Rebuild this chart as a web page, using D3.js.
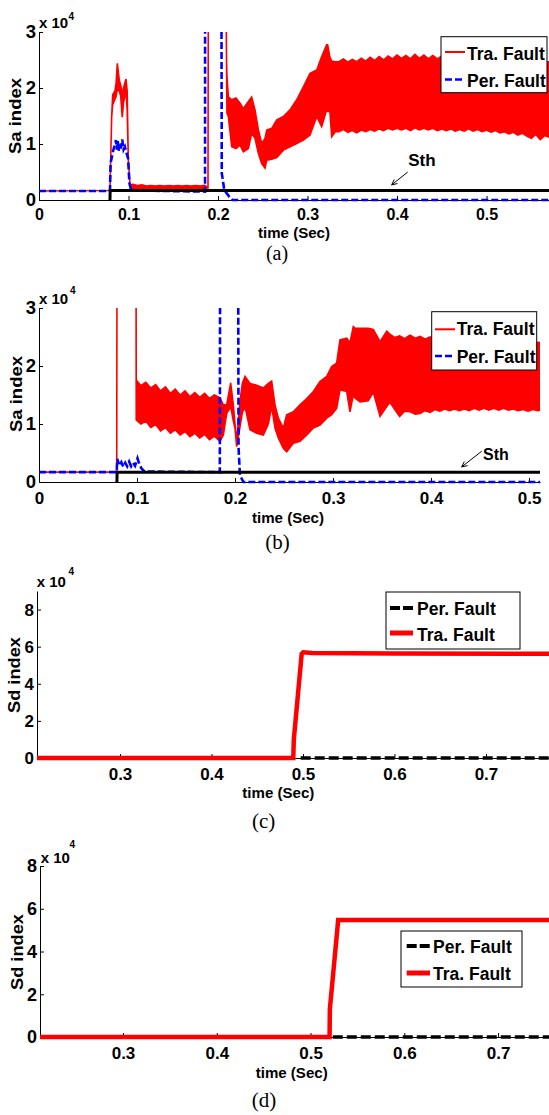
<!DOCTYPE html>
<html>
<head>
<meta charset="utf-8">
<script src="https://cdn.jsdelivr.net/npm/d3@7"></script>
<style>
  html, body { margin: 0; padding: 0; background: #fff; }
  svg { display: block; }
  text { font-family: "Liberation Sans", Arial, Helvetica, sans-serif; font-weight: bold; fill: #000; }
  text.cap { font-family: "Liberation Serif", "Times New Roman", serif; font-weight: normal; }
</style>
</head>
<body>
<svg id="fig" width="549" height="1115"></svg>
<script>
// ---------------- Panel (a): Sa index, values in units of 10^4 ----------------
const aTraTime = [0, 0.0793, 0.0812, 0.0823, 0.0849, 0.0862, 0.0875, 0.0885, 0.0897, 0.0913, 0.0930, 0.0945, 0.0960, 0.0972, 0.0985, 0.0998, 0.1017,
  0.105, 0.110, 0.115, 0.120, 0.125, 0.130, 0.135, 0.140, 0.145, 0.150, 0.155, 0.160, 0.165, 0.170, 0.175, 0.180, 0.185, 0.1888,
  0.1892, 0.2088, 0.2095, 0.2100, 0.2116, 0.2153, 0.2201, 0.2246, 0.2283, 0.2339, 0.2376, 0.2413, 0.2451, 0.2488, 0.2525, 0.2544,
  0.2600, 0.2656, 0.2730, 0.2804, 0.2879, 0.2953, 0.3028, 0.3103, 0.3158, 0.3214, 0.3225, 0.3250, 0.3270, 0.3310,
  0.335, 0.340, 0.345, 0.350, 0.355, 0.360, 0.365, 0.370, 0.375, 0.380, 0.385, 0.390, 0.395, 0.400, 0.405, 0.410, 0.415, 0.420,
  0.425, 0.430, 0.435, 0.440, 0.445, 0.450, 0.455, 0.460, 0.465, 0.470, 0.475, 0.480, 0.485, 0.490, 0.495, 0.500, 0.505, 0.510,
  0.515, 0.520, 0.525, 0.530, 0.535, 0.540, 0.545, 0.550, 0.555, 0.560, 0.565, 0.570];
const aTraLow = [0.16, 0.17, 1.49, 1.70, 1.80, 1.85, 2.00, 1.95, 1.95, 1.85, 1.48, 1.75, 1.85, 1.95, 1.60, 0.71, 0.27,
  0.20, 0.20, 0.21, 0.20, 0.21, 0.20, 0.20, 0.21, 0.20, 0.20, 0.21, 0.20, 0.20, 0.20, 0.21, 0.20, 0.20, 0.22,
  4, 4, 2.50, 1.55, 1.49, 0.95, 0.92, 0.98, 0.86, 0.92, 1.19, 1.10, 0.83, 0.65, 0.57, 0.71,
  0.73, 0.76, 0.89, 0.95, 1.01, 1.07, 1.16, 1.49, 1.31, 1.61, 1.58, 1.58, 1.13, 1.22,
  1.22, 1.26, 1.21, 1.24, 1.20, 1.25, 1.22, 1.26, 1.23, 1.27, 1.24, 1.28, 1.25, 1.28, 1.25, 1.28, 1.24, 1.29,
  1.25, 1.28, 1.25, 1.28, 1.24, 1.27, 1.24, 1.27, 1.23, 1.26, 1.23, 1.27, 1.23, 1.26, 1.22, 1.25, 1.21, 1.24,
  1.20, 1.22, 1.18, 1.21, 1.16, 1.19, 1.14, 1.10, 1.17, 1.08, 1.15, 1.12];
const aTraHigh = [0.16, 0.17, 1.49, 1.88, 1.95, 2.10, 2.44, 2.30, 2.14, 2.05, 1.90, 2.00, 2.10, 2.16, 1.95, 0.71, 0.27,
  0.28, 0.26, 0.27, 0.25, 0.26, 0.25, 0.26, 0.25, 0.26, 0.25, 0.26, 0.25, 0.26, 0.25, 0.26, 0.25, 0.26, 0.22,
  4, 4, 2.50, 2.20, 1.84, 1.79, 1.82, 1.73, 1.63, 1.76, 1.84, 1.61, 1.25, 1.01, 1.10, 1.25,
  1.28, 1.43, 1.49, 1.61, 1.79, 2.02, 2.26, 2.32, 2.56, 2.77, 2.77, 2.55, 2.48, 2.47,
  2.47, 2.52, 2.46, 2.51, 2.47, 2.53, 2.48, 2.55, 2.49, 2.56, 2.50, 2.57, 2.52, 2.59, 2.53, 2.58, 2.52, 2.60,
  2.53, 2.59, 2.52, 2.58, 2.52, 2.57, 2.51, 2.56, 2.50, 2.55, 2.50, 2.55, 2.49, 2.54, 2.49, 2.53, 2.48, 2.52,
  2.47, 2.51, 2.46, 2.50, 2.46, 2.50, 2.46, 2.48, 2.46, 2.48, 2.47, 2.47];

const aPerTime = [0, 0.0793, 0.0800, 0.0830, 0.0850, 0.0860, 0.0870, 0.0880, 0.0890, 0.0900, 0.0915, 0.0930, 0.0945, 0.0960, 0.0975, 0.0995,
  0.1010, 0.1030, 0.1855, 0.1856, 0.2038, 0.2042, 0.2070, 0.2125, 0.2160, 0.570];
const aPerValue = [0.16, 0.16, 0.66, 0.89, 1.00, 1.07, 0.90, 1.05, 0.88, 1.00, 0.92, 1.08, 0.90, 0.95, 0.85, 0.75,
  0.30, 0.17, 0.15, 4, 4, 0.48, 0.18, 0.06, 0, 0];

const aSthTime = [0.0793, 0.0795, 0.570];
const aSthValue = [0, 0.17, 0.17];

// ---------------- Panel (b): Sa index, values in units of 10^4 ----------------
const bTraTime = [0, 0.0793, 0.0796, 0.0990, 0.0992, 0.1040, 0.1090, 0.1140, 0.1190, 0.1240, 0.1290, 0.1340, 0.1390, 0.1440,
  0.1490, 0.1540, 0.1590, 0.1640, 0.1690, 0.1740, 0.1790, 0.1847,
  0.1881, 0.1915, 0.1956, 0.1983, 0.2000, 0.2017, 0.2051, 0.2075, 0.2102, 0.2153, 0.2221, 0.2289, 0.2340, 0.2374, 0.2408, 0.2442,
  0.2493, 0.2527, 0.2595, 0.2663, 0.2732, 0.2799, 0.2867, 0.2936, 0.2986, 0.3037, 0.3071, 0.3140, 0.3173, 0.3207, 0.3224, 0.3276,
  0.3360, 0.3411, 0.3480, 0.3548, 0.3580, 0.363, 0.368, 0.373, 0.3786, 0.384, 0.3888, 0.394, 0.399, 0.404, 0.409, 0.414, 0.419,
  0.424, 0.429, 0.434, 0.439, 0.444, 0.449, 0.454, 0.459, 0.464, 0.469, 0.474, 0.479, 0.484, 0.489, 0.494, 0.499, 0.504, 0.509, 0.512];
const bTraLow = [0.17, 0.17, 4, 4, 1.07, 1.00, 1.05, 0.94, 0.99, 0.88, 0.94, 0.84, 0.90, 0.81,
  0.87, 0.78, 0.84, 0.76, 0.82, 0.73, 0.79, 0.70,
  0.81, 1.18, 1.30, 1.05, 0.93, 0.61, 0.95, 1.20, 1.30, 0.90, 0.84, 0.81, 1.00, 1.30, 0.93, 0.76,
  0.58, 0.52, 0.67, 0.70, 0.81, 0.93, 0.98, 1.10, 1.16, 1.27, 1.59, 1.56, 1.21, 1.50, 1.45, 1.38,
  1.40, 1.55, 1.13, 1.30, 1.38, 1.25, 1.13, 1.22, 1.21, 1.17, 1.18, 1.23, 1.20, 1.25, 1.22, 1.26, 1.23,
  1.26, 1.23, 1.26, 1.23, 1.27, 1.24, 1.27, 1.24, 1.27, 1.24, 1.27, 1.24, 1.26, 1.23, 1.25, 1.22, 1.25, 1.23, 1.24];
const bTraHigh = [0.17, 0.17, 4, 4, 1.76, 1.66, 1.72, 1.62, 1.68, 1.57, 1.64, 1.53, 1.60, 1.50,
  1.57, 1.47, 1.54, 1.46, 1.53, 1.44, 1.50, 1.45,
  1.33, 1.33, 1.71, 1.33, 1.00, 0.70, 1.40, 1.70, 1.82, 1.70, 1.67, 1.62, 1.70, 1.74, 1.33, 1.10,
  0.93, 1.16, 1.21, 1.33, 1.44, 1.56, 1.73, 1.82, 1.99, 2.05, 2.45, 2.48, 2.40, 2.68, 2.65, 2.65,
  2.65, 2.63, 2.42, 2.60, 2.55, 2.49, 2.52, 2.47, 2.53, 2.48, 2.51, 2.46, 2.50, 2.46, 2.49, 2.45, 2.48,
  2.44, 2.47, 2.44, 2.46, 2.43, 2.46, 2.42, 2.45, 2.42, 2.45, 2.41, 2.44, 2.41, 2.43, 2.40, 2.43, 2.39, 2.41, 2.40];

const bPerTime = [0, 0.0793, 0.0798, 0.0820, 0.0840, 0.0860, 0.0880, 0.0900, 0.0920, 0.0940, 0.0960, 0.0980, 0.1005, 0.1025,
  0.1048, 0.1078, 0.1845, 0.1848, 0.2032, 0.2036, 0.2050, 0.2085, 0.512];
const bPerValue = [0.17, 0.17, 0.40, 0.28, 0.34, 0.26, 0.33, 0.27, 0.35, 0.27, 0.33, 0.28, 0.41, 0.30,
  0.23, 0.18, 0.17, 4, 4, 0.60, 0.12, 0, 0];

const bSthTime = [0.0795, 0.0797, 0.512];
const bSthValue = [0, 0.17, 0.17];

// ---------------- Panel (c): Sd index, values in units of 10^4 ----------------
const cTraTime = [0.2093, 0.4894, 0.4900, 0.4986, 0.5003, 0.5100, 0.6000, 0.7700];
const cTraValue = [0, 0, 1.0, 5.62, 5.70, 5.66, 5.63, 5.62];
const cPerTime = [0.4975, 0.7700];
const cPerValue = [0, 0];

// ---------------- Panel (d): Sd index, values in units of 10^4 ----------------
const dTraTime = [0.2115, 0.5203, 0.5206, 0.5295, 0.7550];
const dTraValue = [0, 0, 1.3, 5.47, 5.47];
const dPerTime = [0.5237, 0.7550];
const dPerValue = [0, 0];

// ---------------- Ticks and labels ----------------
const abTicksX = [0, 0.1, 0.2, 0.3, 0.4, 0.5];
const abTicksY = [0, 1, 2, 3];
const cdTicksX = [0.3, 0.4, 0.5, 0.6, 0.7];
const cdTicksY = [0, 2, 4, 6, 8];
const legendAB = ["Tra. Fault", "Per. Fault"];
const legendCD = ["Per. Fault", "Tra. Fault"];
const xTitle = "time (Sec)";
const saTitle = "Sa index";
const sdTitle = "Sd index";
const captions = ["(a)", "(b)", "(c)", "(d)"];
const thresholdLabel = "Sth";
// where the "Sth" note points (time, value in 10^4)
const aSthNote = { tip: [0.394, 0.27], tail: [0.412, 0.50], text: [0.4125, 0.61] };
const bSthNote = { tip: [0.4313, 0.26], tail: [0.4517, 0.53], text: [0.453, 0.38] };

const RED = "#ff0000", BLUE = "#0000ff", BLACK = "#000000";
const svg = d3.select("#fig");

function styleAxis(sel, fontSize) {
  sel.attr("font-family", null).attr("font-size", null);
  sel.select(".domain").attr("stroke", BLACK).attr("stroke-width", 1);
  sel.selectAll(".tick line").attr("stroke", BLACK).attr("stroke-width", 1);
  sel.selectAll(".tick text").style("font-size", fontSize + "px");
}

function drawPanel(p) {
  const g = svg.append("g");
  const x = d3.scaleLinear().domain(p.xDomain).range([p.left, p.right]);
  const y = d3.scaleLinear().domain(p.yDomain).range([p.bottom, p.top]);

  const clipId = "clip-" + p.id;
  svg.append("clipPath").attr("id", clipId).append("rect")
    .attr("x", p.left).attr("y", p.top)
    .attr("width", p.right - p.left).attr("height", p.bottom - p.top + 6);

  g.append("g").attr("transform", `translate(0,${p.bottom})`)
    .call(d3.axisBottom(x).tickValues(p.xTicks).tickFormat(d => String(d))
      .tickSizeInner(-4).tickSizeOuter(0).tickPadding(p.xPad))
    .call(styleAxis, p.xFont);
  g.append("g").attr("transform", `translate(${p.left},0)`)
    .call(d3.axisLeft(y).tickValues(p.yTicks).tickFormat(d => String(d))
      .tickSizeInner(-4).tickSizeOuter(0).tickPadding(p.yPad))
    .call(styleAxis, p.yFont);

  const marks = g.append("g").attr("clip-path", `url(#${clipId})`);
  p.series.forEach(s => {
    const idx = d3.range(s.time.length);
    if (s.low) {
      const area = d3.area()
        .x(i => x(s.time[i])).y0(i => y(s.low[i])).y1(i => y(s.high[i]));
      marks.append("path").attr("d", area(idx))
        .attr("fill", s.color).attr("stroke", s.color)
        .attr("stroke-width", s.width).attr("stroke-linejoin", "miter");
    } else {
      const line = d3.line().x(i => x(s.time[i])).y(i => y(s.value[i]));
      marks.append("path").attr("d", line(idx))
        .attr("fill", "none").attr("stroke", s.color)
        .attr("stroke-width", s.width)
        .attr("stroke-dasharray", s.dash || null);
    }
  });

  // multiplier above the y axis
  g.append("text").attr("x", p.mult[0]).attr("y", p.mult[1]).style("font-size", "15px").text("x 10");
  g.append("text").attr("x", p.mult[2]).attr("y", p.mult[3]).style("font-size", "10px").text("4");

  // axis titles
  g.append("text").attr("x", p.xTitle[0]).attr("y", p.xTitle[1]).attr("text-anchor", "middle")
    .style("font-size", "15px").attr("textLength", 72).attr("lengthAdjust", "spacingAndGlyphs")
    .text(xTitle);
  g.append("text").attr("transform", `translate(${p.yTitle[0]},${p.yTitle[1]}) rotate(-90)`)
    .attr("text-anchor", "middle").style("font-size", "16px")
    .attr("textLength", 76).attr("lengthAdjust", "spacingAndGlyphs")
    .text(p.yTitleText);

  // caption under the panel
  g.append("text").attr("class", "cap").attr("x", p.cap[0]).attr("y", p.cap[1])
    .attr("text-anchor", "middle").style("font-size", p.capFont + "px").text(p.capText);

  // threshold note
  if (p.note) {
    const n = p.note;
    const tip = [x(n.tip[0]), y(n.tip[1])], tail = [x(n.tail[0]), y(n.tail[1])];
    g.append("line").attr("x1", tail[0]).attr("y1", tail[1]).attr("x2", tip[0]).attr("y2", tip[1])
      .attr("stroke", BLACK).attr("stroke-width", 1);
    const ang = Math.atan2(tail[1] - tip[1], tail[0] - tip[0]);
    [0.45, -0.45].forEach(da => {
      g.append("line").attr("x1", tip[0]).attr("y1", tip[1])
        .attr("x2", tip[0] + 6 * Math.cos(ang + da)).attr("y2", tip[1] + 6 * Math.sin(ang + da))
        .attr("stroke", BLACK).attr("stroke-width", 1);
    });
    g.append("text").attr("x", x(n.text[0])).attr("y", y(n.text[1]))
      .style("font-size", p.noteFont + "px").text(thresholdLabel);
  }

  // legend box
  const L = p.legend;
  g.append("rect").attr("x", L.x).attr("y", L.y).attr("width", L.w).attr("height", L.h)
    .attr("fill", "#fff").attr("stroke", BLACK).attr("stroke-width", 1);
  L.items.forEach(it => {
    g.append("line").attr("x1", L.sx0).attr("x2", L.sx1).attr("y1", it.ly).attr("y2", it.ly)
      .attr("stroke", it.color).attr("stroke-width", it.width)
      .attr("stroke-dasharray", it.dash || null);
    g.append("text").attr("x", L.tx).attr("y", it.base).style("font-size", "17.5px").text(it.label);
  });
}

// (a)
drawPanel({
  id: "a", left: 39, right: 549.2, top: 32, bottom: 200,
  xDomain: [0, 0.57], yDomain: [0, 3], xTicks: abTicksX, yTicks: abTicksY,
  xPad: 9, yPad: 3, xFont: 16, yFont: 18.5,
  series: [
    { time: aTraTime, low: aTraLow, high: aTraHigh, color: RED, width: 1.6 },
    { time: aPerTime, value: aPerValue, color: BLUE, width: 2.6, dash: "7,3" },
    { time: aSthTime, value: aSthValue, color: BLACK, width: 3 }
  ],
  mult: [39, 27.5, 68.5, 20], xTitle: [294, 238], yTitle: [20.7, 116], yTitleText: saTitle,
  cap: [277, 260], capFont: 20, capText: captions[0],
  note: aSthNote, noteFont: 17,
  legend: { x: 441, y: 36.7, w: 106, h: 56, sx0: 445, sx1: 465, tx: 467,
    items: [
      { label: legendAB[0], color: RED, width: 2, ly: 52, base: 60 },
      { label: legendAB[1], color: BLUE, width: 2.6, dash: "7,3", ly: 79.5, base: 87 }
    ] }
});

// (b)
drawPanel({
  id: "b", left: 39, right: 540, top: 308, bottom: 482,
  xDomain: [0, 0.5112], yDomain: [0, 3], xTicks: abTicksX, yTicks: abTicksY,
  xPad: 10, yPad: 3, xFont: 17, yFont: 18.5,
  series: [
    { time: bTraTime, low: bTraLow, high: bTraHigh, color: RED, width: 1.6 },
    { time: bPerTime, value: bPerValue, color: BLUE, width: 2.6, dash: "7,3" },
    { time: bSthTime, value: bSthValue, color: BLACK, width: 3 }
  ],
  mult: [39, 303.5, 70, 293.5], xTitle: [288, 523], yTitle: [21.7, 394], yTitleText: saTitle,
  cap: [277.5, 549], capFont: 21, capText: captions[1],
  note: bSthNote, noteFont: 16,
  legend: { x: 431.7, y: 311.7, w: 105, h: 58.3, sx0: 435, sx1: 455, tx: 456.7,
    items: [
      { label: legendAB[0], color: RED, width: 2, ly: 329.3, base: 335 },
      { label: legendAB[1], color: BLUE, width: 2.6, dash: "7,3", ly: 356, base: 363 }
    ] }
});

// (c)
drawPanel({
  id: "c", left: 37, right: 549, top: 591, bottom: 758,
  xDomain: [0.2093, 0.7689], yDomain: [0, 9], xTicks: cdTicksX, yTicks: cdTicksY,
  xPad: 10, yPad: 3, xFont: 17, yFont: 17,
  series: [
    { time: cPerTime, value: cPerValue, color: BLACK, width: 3.5, dash: "10,4" },
    { time: cTraTime, value: cTraValue, color: RED, width: 4.5 }
  ],
  mult: [36.7, 587, 68.5, 575], xTitle: [278.3, 798], yTitle: [20, 675], yTitleText: sdTitle,
  cap: [263.7, 828], capFont: 21, capText: captions[2],
  legend: { x: 386, y: 592, w: 134, h: 57, sx0: 390, sx1: 413, tx: 417,
    items: [
      { label: legendCD[0], color: BLACK, width: 4, dash: "10,3", ly: 608, base: 615 },
      { label: legendCD[1], color: RED, width: 5, ly: 633, base: 641 }
    ] }
});

// (d)
drawPanel({
  id: "d", left: 40, right: 549, top: 866, bottom: 1037,
  xDomain: [0.2115, 0.7543], yDomain: [0, 8], xTicks: cdTicksX, yTicks: cdTicksY,
  xPad: 10, yPad: 3, xFont: 17, yFont: 18,
  series: [
    { time: dPerTime, value: dPerValue, color: BLACK, width: 3.5, dash: "10,4" },
    { time: dTraTime, value: dTraValue, color: RED, width: 4.5 }
  ],
  mult: [40.7, 863, 69.5, 848], xTitle: [291.7, 1078], yTitle: [22.7, 952], yTitleText: sdTitle,
  cap: [264, 1106.5], capFont: 21, capText: captions[3],
  legend: { x: 401, y: 931, w: 121, h: 56, sx0: 406.7, sx1: 430, tx: 433,
    items: [
      { label: legendCD[0], color: BLACK, width: 4, dash: "10,3", ly: 946, base: 953 },
      { label: legendCD[1], color: RED, width: 5, ly: 973, base: 980 }
    ] }
});
</script>
</body>
</html>
